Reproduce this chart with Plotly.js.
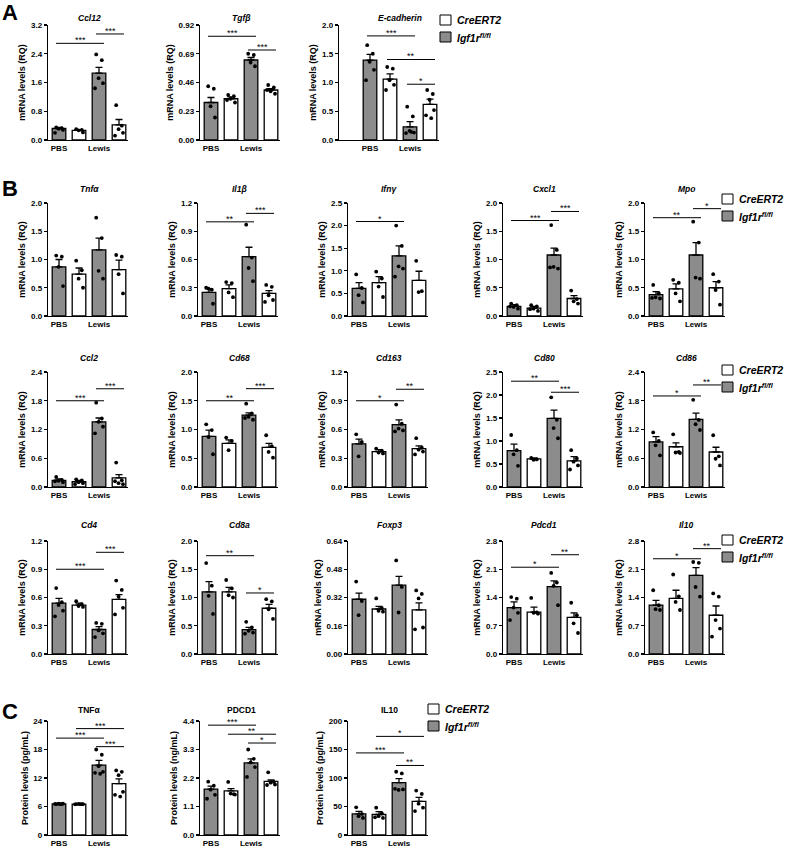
<!DOCTYPE html>
<html>
<head>
<meta charset="utf-8">
<script src="https://cdn.plot.ly/plotly-3.0.1.min.js"></script>
<style>body{margin:0;background:#fff}</style>
</head>
<body>
<div id="fig" style="width:786px;height:848px"></div>
<script>
// bar order in every plot: Igf1r PBS, CreERT2 PBS, Igf1r Lewis, CreERT2 Lewis
const groupLabels = ['PBS', 'Lewis'];
const legendNames = ['CreERT2', 'Igf1r<sup>fl/fl</sup>'];

const titles = ['Ccl12', 'Tgfβ', 'E-cadherin',
  'Tnfα', 'Il1β', 'Ifnγ', 'Cxcl1', 'Mpo',
  'Ccl2', 'Cd68', 'Cd163', 'Cd80', 'Cd86',
  'Cd4', 'Cd8a', 'Foxp3', 'Pdcd1', 'Il10',
  'TNFα', 'PDCD1', 'IL10'];

const yLabels = Array(18).fill('mRNA levels (RQ)').concat(
  ['Protein levels (pg/mL)', 'Protein levels (ng/mL)', 'Protein levels (pg/mL)']);

const yMax = [3.2, 0.92, 2.0, 2.0, 1.2, 2.5, 2.0, 2.0, 2.4, 2.0, 1.2, 2.5, 2.4,
  1.2, 2.0, 0.64, 2.8, 2.8, 24, 4.4, 200];
const yStep = [0.8, 0.23, 0.5, 0.5, 0.3, 0.5, 0.5, 0.5, 0.6, 0.5, 0.3, 0.5, 0.6,
  0.3, 0.5, 0.16, 0.7, 0.7, 6, 1.1, 50];
const yFormat = ['.1f', '.2f', '.1f', '.1f', '.1f', '.1f', '.1f', '.1f', '.1f', '.1f', '.1f', '.1f', '.1f',
  '.1f', '.1f', '.2f', '.1f', '.1f', 'd', '.1f', 'd'];

const means = [
  [0.32, 0.27, 1.86, 0.42], [0.30, 0.33, 0.64, 0.40], [1.39, 1.06, 0.23, 0.62],
  [0.87, 0.74, 1.17, 0.82], [0.25, 0.29, 0.63, 0.24], [0.61, 0.74, 1.33, 0.79],
  [0.17, 0.14, 1.08, 0.31], [0.38, 0.48, 1.08, 0.50],
  [0.14, 0.11, 1.36, 0.19], [0.88, 0.76, 1.25, 0.69], [0.45, 0.37, 0.65, 0.40],
  [0.79, 0.61, 1.49, 0.57], [0.94, 0.84, 1.41, 0.73],
  [0.54, 0.52, 0.26, 0.58], [1.10, 1.10, 0.43, 0.81], [0.31, 0.255, 0.39, 0.25],
  [1.15, 1.04, 1.67, 0.91], [1.21, 1.38, 1.95, 0.96],
  [6.55, 6.5, 14.7, 10.8], [1.77, 1.70, 2.78, 2.07], [37, 36, 92, 59]
];

const sems = [
  [0.03, 0.02, 0.16, 0.15], [0.04, 0.015, 0.02, 0.01], [0.10, 0.09, 0.09, 0.09],
  [0.13, 0.11, 0.21, 0.17], [0.04, 0.04, 0.10, 0.03], [0.13, 0.13, 0.22, 0.20],
  [0.03, 0.03, 0.12, 0.05], [0.05, 0.09, 0.22, 0.11],
  [0.03, 0.03, 0.08, 0.07], [0.11, 0.06, 0.04, 0.07], [0.05, 0.02, 0.05, 0.03],
  [0.14, 0.02, 0.18, 0.09], [0.11, 0.08, 0.13, 0.10],
  [0.05, 0.02, 0.03, 0.05], [0.18, 0.08, 0.04, 0.07], [0.035, 0.015, 0.05, 0.04],
  [0.14, 0.12, 0.14, 0.11], [0.12, 0.20, 0.19, 0.23],
  [0.05, 0.05, 1.0, 1.0], [0.12, 0.09, 0.16, 0.06], [4.5, 5, 7, 7]
];

const dots = [
  [[0.35, 0.33, 0.31, 0.28, 0.20], [0.30, 0.28, 0.27, 0.21], [2.38, 2.22, 1.72, 1.58, 1.44], [0.97, 0.40, 0.30, 0.20, 0.12]],
  [[0.43, 0.41, 0.27, 0.18], [0.36, 0.35, 0.33, 0.30, 0.32], [0.69, 0.68, 0.62, 0.59], [0.44, 0.42, 0.39, 0.37, 0.40]],
  [[1.65, 1.50, 1.36, 1.22, 1.04], [1.27, 1.24, 1.04, 0.96, 0.87], [0.58, 0.41, 0.16, 0.13, 0.12, 0.14], [0.87, 0.80, 0.70, 0.52, 0.43, 0.38]],
  [[1.07, 1.05, 0.87, 0.53], [0.98, 0.81, 0.66, 0.50], [1.74, 1.38, 0.80, 0.66], [1.08, 1.05, 0.74, 0.40]],
  [[0.30, 0.28, 0.29, 0.13], [0.36, 0.35, 0.25, 0.20], [0.97, 0.62, 0.51, 0.37], [0.33, 0.31, 0.22, 0.17, 0.15]],
  [[0.92, 0.62, 0.46, 0.30], [0.98, 0.83, 0.65, 0.42], [2.0, 1.55, 1.1, 1.05, 0.87], [1.22, 0.55, 0.53]],
  [[0.22, 0.19, 0.16, 0.13, 0.17], [0.19, 0.17, 0.13, 0.09, 0.12], [1.61, 1.17, 0.87, 0.84, 0.86], [0.45, 0.30, 0.26, 0.22]],
  [[0.55, 0.40, 0.33, 0.31, 0.32], [0.64, 0.59, 0.40, 0.26], [1.67, 1.30, 0.68, 0.66], [0.74, 0.61, 0.46, 0.20]],
  [[0.21, 0.15, 0.13, 0.10, 0.12], [0.16, 0.14, 0.10, 0.08, 0.06], [1.76, 1.43, 1.36, 1.26, 1.12], [0.51, 0.14, 0.08, 0.06, 0.12]],
  [[1.09, 0.99, 0.87, 0.57], [0.86, 0.80, 0.64], [1.45, 1.28, 1.22, 1.17, 1.20], [0.90, 0.71, 0.61, 0.51]],
  [[0.55, 0.47, 0.32], [0.40, 0.38, 0.36, 0.35], [0.86, 0.66, 0.61, 0.59, 0.58], [0.51, 0.41, 0.39, 0.37, 0.34]],
  [[1.13, 0.80, 0.71, 0.46], [0.63, 0.60, 0.59], [1.95, 1.46, 1.28, 1.06], [0.80, 0.62, 0.55, 0.47, 0.38]],
  [[1.14, 0.96, 0.87, 0.66], [1.10, 0.73, 0.72, 0.71], [1.82, 1.40, 1.31, 1.19], [1.08, 0.64, 0.59, 0.45]],
  [[0.70, 0.55, 0.52, 0.46, 0.40], [0.56, 0.53, 0.51, 0.50], [0.33, 0.32, 0.25, 0.22, 0.18], [0.78, 0.68, 0.61, 0.49, 0.42]],
  [[1.61, 1.21, 1.03, 0.71], [1.31, 1.16, 1.04, 1.00], [0.57, 0.47, 0.41, 0.38, 0.36], [0.97, 0.93, 0.79, 0.62]],
  [[0.41, 0.30, 0.22], [0.315, 0.26, 0.245, 0.24], [0.53, 0.38, 0.235], [0.36, 0.34, 0.315, 0.15, 0.14]],
  [[1.41, 1.37, 1.15, 1.02, 0.84], [1.39, 1.03, 1.02, 1.00], [2.01, 1.77, 1.69, 1.21], [1.27, 0.96, 0.76, 0.52]],
  [[1.58, 1.21, 1.11, 1.09], [1.97, 1.43, 1.29, 1.09], [2.28, 2.26, 1.66, 1.42], [1.50, 1.42, 0.84, 0.63, 0.43]],
  [[6.5, 6.55, 6.6, 6.6, 6.55, 6.5], [6.5, 6.5, 6.55, 6.5, 6.45, 6.5], [18.0, 16.9, 14.5, 13.3, 13.1, 12.9], [13.6, 13.3, 12.6, 9.1, 8.45, 8.1]],
  [[2.06, 1.90, 1.75, 1.55, 1.40], [2.05, 1.58, 1.60, 1.56], [3.30, 2.94, 2.80, 2.62, 2.24], [2.42, 2.05, 2.02, 1.95, 1.93]],
  [[48.5, 37, 33, 30], [48, 38, 33, 30, 31], [111, 108, 79, 80, 81], [78, 72, 55, 48, 42]]
];

// [from bar, to bar, height, label]
const sigs = [
  [[0, 2, 2.69, '***'], [2, 3, 2.95, '***']],
  [[0, 2, 0.83, '***'], [2, 3, 0.72, '***']],
  [[0, 2, 1.81, '***'], [1, 3, 1.40, '**'], [2, 3, 0.97, '*']],
  [],
  [[0, 2, 1.0, '**'], [2, 3, 1.09, '***']],
  [[0, 2, 2.09, '*']],
  [[0, 2, 1.69, '***'], [2, 3, 1.85, '***']],
  [[0, 2, 1.74, '**'], [2, 3, 1.90, '*']],
  [[0, 2, 1.80, '***'], [2, 3, 2.05, '***']],
  [[0, 2, 1.50, '**'], [2, 3, 1.71, '***']],
  [[0, 2, 0.90, '*'], [2, 3, 1.02, '**']],
  [[0, 2, 2.30, '**'], [2, 3, 2.06, '***']],
  [[0, 2, 1.90, '*'], [2, 3, 2.13, '**']],
  [[0, 2, 0.90, '***'], [2, 3, 1.08, '***']],
  [[0, 2, 1.74, '**'], [2, 3, 1.08, '*']],
  [],
  [[0, 2, 2.15, '*'], [2, 3, 2.46, '**']],
  [[0, 2, 2.36, '*'], [2, 3, 2.61, '**']],
  [[0, 2, 20.4, '***'], [1, 3, 22.4, '***'], [2, 3, 18.6, '***']],
  [[0, 2, 4.24, '***'], [1, 3, 3.89, '**'], [2, 3, 3.55, '*']],
  [[0, 2, 144, '***'], [1, 3, 173, '*'], [2, 3, 122, '**']]
];

// ---- layout in pixels ----
const W = 786, H = 848;
const fx = px => px / W;
const fy = px => 1 - px / H;
const FONT = '"Liberation Sans", Arial, sans-serif';
const GREY = '#8c8c8c';

const rowY = [[25, 140], [203, 316], [372, 487], [541, 654], [721, 835]];
const colX = [[48, 200, 339], [48, 198, 348, 503, 645], [48, 198, 348, 503, 645],
  [48, 198, 348, 503, 645], [48, 200, 348]];
const titleGap = [7, 14, 14, 16, 11];
const legendPos = [[440, 20], [722, 199], [722, 370], [722, 540], [428, 709]];
const letters = [['A', 12], ['B', 188], ['C', 711]];
const jitter = [-0.14, 0.14, -0.02, 0.2, -0.2, 0.06];
const PX = 20; // pixels per bar slot

const traces = [];
const layout = {
  width: W, height: H, margin: {l: 0, r: 0, t: 0, b: 0},
  paper_bgcolor: '#fff', plot_bgcolor: 'rgba(0,0,0,0)', showlegend: false,
  shapes: [], annotations: []
};

let k = 0;
rowY.forEach((ry, r) => {
  colX[r].forEach(left => {
    const s = k === 0 ? '' : String(k + 1);
    const xr = titles[k] === 'E-cadherin' ? [-1.55, 3.45] : [-0.55, 3.45];
    const right = left + (xr[1] - xr[0]) * PX;
    const [top, bottom] = ry;
    const m = means[k], e = sems[k];

    [[1, 3, '#fff'], [0, 2, GREY]].forEach(([a, b, col]) => {
      traces.push({
        type: 'bar', x: [a, b], y: [m[a], m[b]], xaxis: 'x' + s, yaxis: 'y' + s,
        width: 0.68, marker: {color: col, line: {color: '#000', width: 1.3}},
        error_y: {type: 'data', symmetric: false, array: [e[a], e[b]], arrayminus: [0, 0],
          color: '#000', thickness: 1.3, width: 3.5},
        hoverinfo: 'skip'
      });
    });
    const dx = [], dy = [];
    dots[k].forEach((vals, b) => vals.forEach((v, i) => { dx.push(b + jitter[i]); dy.push(v); }));
    traces.push({
      type: 'scatter', mode: 'markers', x: dx, y: dy, xaxis: 'x' + s, yaxis: 'y' + s,
      marker: {color: '#000', size: 3.8}, cliponaxis: false, hoverinfo: 'skip'
    });

    const n = Math.round(yMax[k] / yStep[k]);
    const tv = Array.from({length: n + 1}, (_, i) => +(i * yStep[k]).toFixed(4));
    layout['xaxis' + s] = {
      domain: [fx(left), fx(right)], range: xr, anchor: 'y' + s, automargin: false,
      showline: true, linecolor: '#000', linewidth: 1.3, ticks: '', showgrid: false, zeroline: false,
      tickvals: [0, 2], ticktext: groupLabels, ticklabelstandoff: 0,
      tickfont: {family: FONT, size: 8, weight: 'bold', color: '#000'}, fixedrange: true
    };
    layout['yaxis' + s] = {
      domain: [fy(bottom), fy(top)], range: [0, yMax[k]], anchor: 'x' + s, automargin: false,
      showline: true, linecolor: '#000', linewidth: 1.3, ticks: 'outside', ticklen: 3,
      tickwidth: 1.2, tickcolor: '#000', showgrid: false, zeroline: false,
      tickmode: 'array', tickvals: tv, tickformat: yFormat[k],
      tickfont: {family: FONT, size: 8, weight: 'bold', color: '#000'}, fixedrange: true,
      title: {text: yLabels[k], standoff: 3, font: {family: FONT, size: 9, weight: 'bold', color: '#000'}}
    };

    const italic = r < 4;
    layout.annotations.push({
      xref: 'paper', yref: 'paper', x: fx(left + (1.5 - xr[0]) * PX), y: fy(top - titleGap[r]),
      text: titles[k], showarrow: false, xanchor: 'center', yanchor: 'middle',
      font: {family: FONT, size: 8.5, weight: 'bold', style: italic ? 'italic' : 'normal', color: '#000'}
    });

    sigs[k].forEach(([a, b, h, lab]) => {
      const x0 = a - 0.15, x1 = b + 0.25;
      layout.shapes.push({type: 'line', xref: 'x' + s, yref: 'y' + s, x0: x0, x1: x1, y0: h, y1: h,
        line: {color: '#000', width: 1}});
      layout.annotations.push({xref: 'x' + s, yref: 'y' + s, x: (x0 + x1) / 2, y: h, text: lab,
        showarrow: false, xanchor: 'center', yanchor: 'bottom', yshift: -4,
        font: {family: FONT, size: 9, color: '#000'}});
    });
    k++;
  });

  // legend for the row
  const [lx, ly] = legendPos[r];
  [['#fff', legendNames[0]], [GREY, legendNames[1]]].forEach(([col, name], i) => {
    const cy = ly + i * 17;
    layout.shapes.push({type: 'rect', xref: 'paper', yref: 'paper',
      x0: fx(lx), x1: fx(lx + 11), y0: fy(cy + 5), y1: fy(cy - 5),
      fillcolor: col, line: {color: '#000', width: 1}});
    layout.annotations.push({xref: 'paper', yref: 'paper', x: fx(lx + 15), y: fy(cy),
      text: name, showarrow: false, xanchor: 'left', yanchor: 'middle',
      font: {family: FONT, size: 10.5, weight: 'bold', style: 'italic', color: '#000'}});
  });
});

letters.forEach(([t, y]) => layout.annotations.push({
  xref: 'paper', yref: 'paper', x: 0, y: fy(y), text: t, showarrow: false,
  xanchor: 'left', yanchor: 'middle', font: {family: FONT, size: 22, weight: 'bold', color: '#000'}
}));

Plotly.newPlot('fig', traces, layout, {staticPlot: true});
</script>
</body>
</html>
